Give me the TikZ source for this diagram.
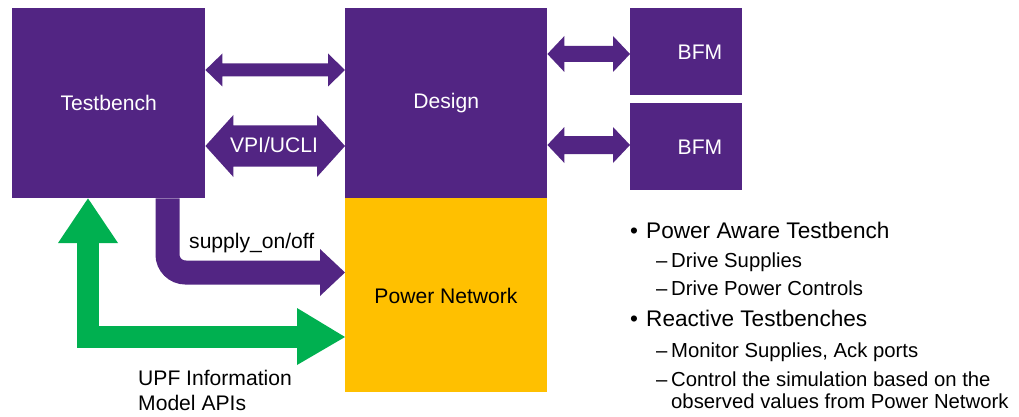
\documentclass[tikz,border=0pt]{standalone}
\usepackage{fontspec}
\setmainfont{Liberation Sans}
\usetikzlibrary{calc}

\definecolor{upfpurple}{RGB}{82,37,131}
\definecolor{upfgold}{RGB}{255,192,0}
\definecolor{upfgreen}{RGB}{0,176,80}

\newcommand\lblfont{\fontsize{21.1}{25}\selectfont}
\newcommand\itemfont{\fontsize{22.6}{27}\selectfont}
\newcommand\subfont{\fontsize{20.3}{24}\selectfont}

% Block double arrow between the east side of #2 and the west side of #3,
% centred at height #4: shaft half-height #5, head half-height #6, head length #7.
\newcommand\blockarrow[7]{%
  \fill[#1] ($(#2.east|-0,#4)$) -- ++(#7,-#6) -- ++(0,{#6-#5})
    -- ($(#3.west|-0,#4)+(-#7,-#5)$) -- ++(0,{#5-#6})
    -- ($(#3.west|-0,#4)$) -- ++(-#7,#6) -- ++(0,{#5-#6})
    -- ($(#2.east|-0,#4)+(#7,#5)$) -- ++(0,{#6-#5}) -- cycle;}

\begin{document}
\begin{tikzpicture}[x=1pt,y=-1pt,
  block/.style={fill=upfpurple, text=white, inner sep=0pt, anchor=north west, font=\lblfont},
  goldblock/.style={fill=upfgold, text=black, inner sep=0pt, anchor=north west, font=\lblfont},
  lbl/.style={inner sep=0pt, font=\lblfont},
  bullet/.style={inner sep=0pt, anchor=base west, font=\itemfont},
  sub/.style={inner sep=0pt, anchor=base west, font=\subfont}]

\useasboundingbox[fill=white] (0,0) rectangle (1019,417);

% blocks
\node[block, minimum width=193pt, minimum height=190pt] (tb) at (12,8) {Testbench};
\node[block, minimum width=202pt, minimum height=190pt] (design) at (345,8) {Design};
\node[goldblock, minimum width=202pt, minimum height=194pt] (pn) at (345,198) {};
\node[lbl, anchor=center] (pnlabel) at (446,296) {Power Network};
\node[block, minimum width=112pt, minimum height=87pt] (bfma) at (630,8) {};
\node[block, minimum width=112pt, minimum height=87pt] (bfmb) at (630,103) {};
\node[lbl, text=white] (bfmalabel) at (700,52) {BFM};
\node[lbl, text=white] (bfmblabel) at (700,147) {BFM};

% block arrows between testbench, design and the BFMs
\blockarrow{upfpurple}{tb}{design}{70}{6.5}{16.5}{17}
\blockarrow{upfpurple}{tb}{design}{146}{20.5}{31}{28}
\node[lbl, text=white] (vpi) at (274,145) {VPI/UCLI};
\blockarrow{upfpurple}{design}{bfma}{54}{8}{18}{17}
\blockarrow{upfpurple}{design}{bfmb}{145}{9}{18}{17}

% supply_on/off arrow from testbench to power network
\coordinate (supbend) at (167.5,272.5);
\coordinate (supbase) at (321,272.5);
\draw[upfpurple, line width=24pt, rounded corners=18pt]
  (tb.south -| supbend) -- (supbend) -- (supbase);
\fill[upfpurple] ($(supbase)+(-1,-23.5)$) -- (pn.west |- supbase) -- ($(supbase)+(-1,23.5)$) -- cycle;
\node[lbl, anchor=base west] (supply) at (189,248) {supply\_on/off};

% UPF information model arrow (two-headed, square corner)
\coordinate (upfcorner) at (88,337);
\coordinate (upftop) at (88,243);
\coordinate (upfright) at (297,337);
\draw[upfgreen, line width=22pt, line join=miter]
  ($(upftop)+(0,-1)$) -- (upfcorner) -- ($(upfright)+(1,0)$);
\fill[upfgreen] ($(upftop)+(-30,0)$) -- (tb.south -| upftop) -- ($(upftop)+(30,0)$) -- cycle;
\fill[upfgreen] ($(upfright)+(0,-29)$) -- (pn.west |- upfright) -- ($(upfright)+(0,28)$) -- cycle;
\node[lbl, anchor=base west] (upf1) at (138,385) {UPF Information};
\node[lbl, anchor=base west] (upf2) at (138,410) {Model APIs};

% bullet list
\node[bullet] (b1) at (630,238) {•};
\node[bullet] (t1) at (646,238) {Power Aware Testbench};
\node[sub] (d1) at (656,267) {–};
\node[sub] (t11) at (671,267) {Drive Supplies};
\node[sub] (d2) at (656,295) {–};
\node[sub] (t12) at (671,295) {Drive Power Controls};
\node[bullet] (b2) at (630,326) {•};
\node[bullet] (t2) at (646,326) {Reactive Testbenches};
\node[sub] (d3) at (656,357) {–};
\node[sub] (t21) at (671,357) {Monitor Supplies, Ack ports};
\node[sub] (d4) at (656,386) {–};
\node[sub] (t22) at (671,386) {Control the simulation based on the};
\node[sub] (t23) at (671,408) {observed values from Power Network};
\end{tikzpicture}
\end{document}
